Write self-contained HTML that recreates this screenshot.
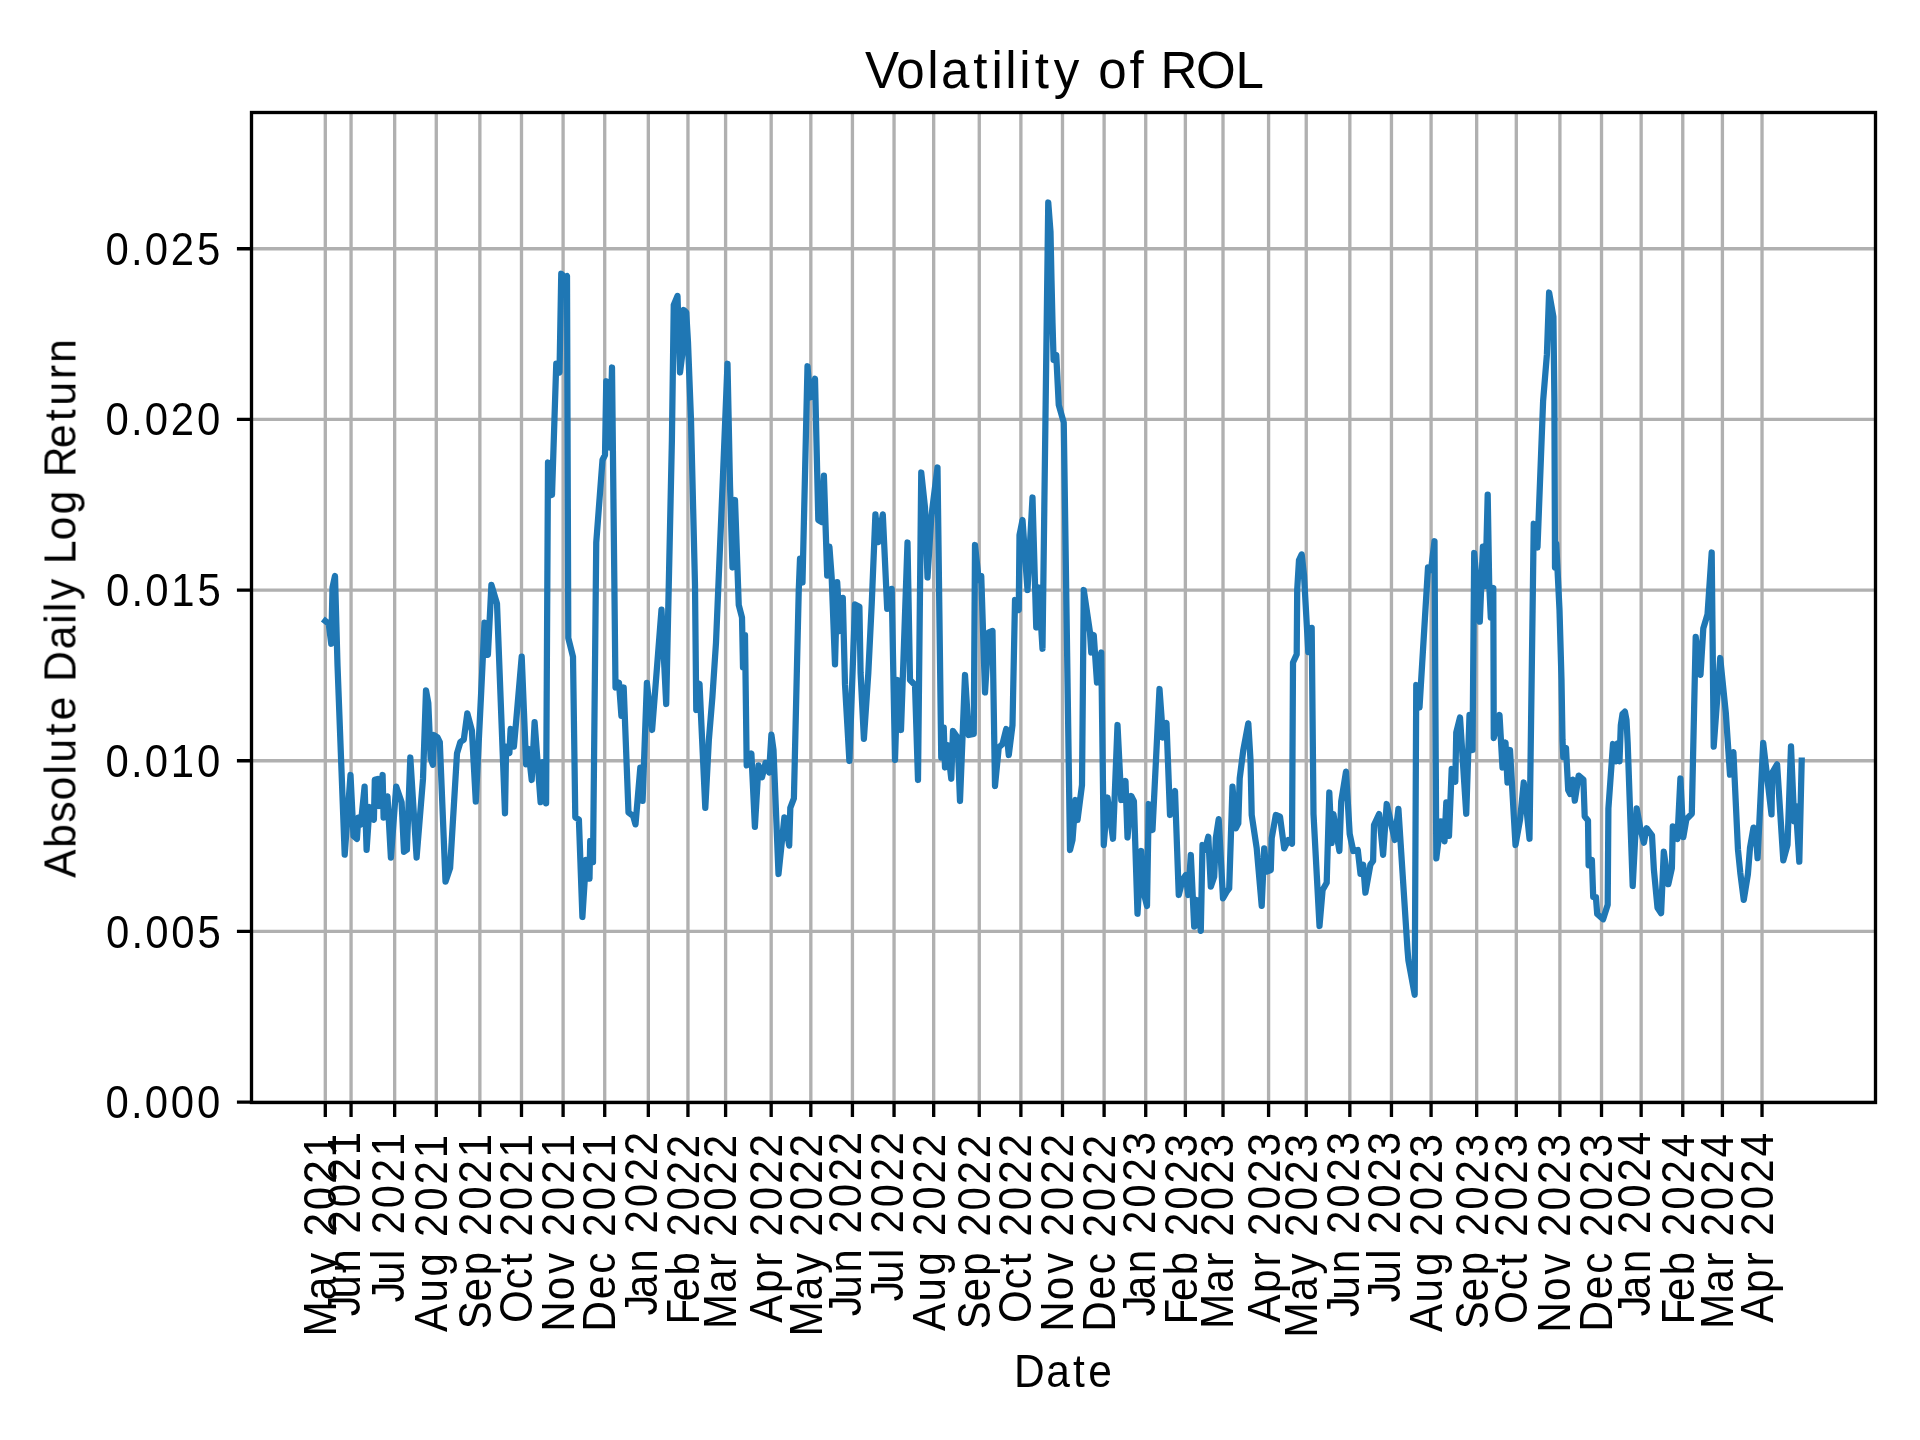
<!DOCTYPE html><html><head><meta charset="utf-8"><title>Volatility of ROL</title><style>html,body{margin:0;padding:0;background:#fff;overflow:hidden}svg{display:block}text{font-family:"Liberation Sans",sans-serif;fill:#000}</style></head><body>
<svg width="1920" height="1440" viewBox="0 0 1920 1440">
<rect x="0" y="0" width="1920" height="1440" fill="#fff"/>
<defs><clipPath id="ax"><rect x="251.50" y="112.50" width="1624.00" height="990.00"/></clipPath></defs>
<path d="M325.30 112.50V1102.50M351.06 112.50V1102.50M394.66 112.50V1102.50M436.28 112.50V1102.50M479.87 112.50V1102.50M521.49 112.50V1102.50M563.10 112.50V1102.50M604.72 112.50V1102.50M648.32 112.50V1102.50M687.95 112.50V1102.50M725.60 112.50V1102.50M771.18 112.50V1102.50M810.82 112.50V1102.50M852.43 112.50V1102.50M894.05 112.50V1102.50M933.68 112.50V1102.50M979.26 112.50V1102.50M1020.88 112.50V1102.50M1062.49 112.50V1102.50M1104.11 112.50V1102.50M1145.72 112.50V1102.50M1185.36 112.50V1102.50M1223.01 112.50V1102.50M1268.59 112.50V1102.50M1306.24 112.50V1102.50M1349.84 112.50V1102.50M1391.45 112.50V1102.50M1431.09 112.50V1102.50M1476.67 112.50V1102.50M1516.30 112.50V1102.50M1559.90 112.50V1102.50M1601.51 112.50V1102.50M1641.15 112.50V1102.50M1682.76 112.50V1102.50M1722.40 112.50V1102.50M1762.03 112.50V1102.50M251.50 1102.10H1875.50M251.50 931.43H1875.50M251.50 760.77H1875.50M251.50 590.10H1875.50M251.50 419.44H1875.50M251.50 248.77H1875.50" stroke="#b0b0b0" stroke-width="3.33" fill="none"/>
<path d="M325.30 621.00 L328.75 623.75 L331.25 643.75 L332.50 587.50 L335.00 576.00 L337.50 665.00 L344.70 854.70 L350.50 775.00 L353.50 836.00 L356.90 839.00 L358.30 817.70 L360.80 824.50 L364.60 786.60 L366.60 849.80 L369.50 807.00 L373.90 819.70 L374.80 779.80 L377.80 778.90 L379.40 806.00 L382.60 775.00 L383.60 817.70 L387.50 796.40 L390.90 857.60 L396.20 786.60 L401.60 802.20 L404.00 851.80 L406.90 849.80 L410.30 757.50 L416.60 857.60 L423.00 778.90 L426.00 690.30 L428.30 703.00 L430.60 758.00 L432.90 764.80 L434.00 735.00 L437.50 737.30 L439.80 742.00 L445.50 881.70 L450.10 868.00 L457.00 753.40 L460.40 742.00 L463.80 739.60 L467.30 713.30 L471.90 730.50 L475.80 801.50 L481.00 696.00 L484.50 622.70 L487.90 654.80 L491.40 584.90 L497.00 603.75 L505.00 813.30 L506.10 746.70 L509.40 753.00 L510.60 728.90 L513.90 746.70 L516.10 722.00 L521.70 656.70 L526.10 764.40 L528.30 748.90 L531.70 780.00 L534.60 722.20 L540.60 802.20 L542.80 762.20 L546.10 803.30 L548.00 462.50 L552.00 495.00 L556.25 363.75 L559.50 372.50 L561.25 273.75 L565.00 277.50 L567.00 276.00 L568.30 637.90 L573.00 656.80 L575.30 817.30 L578.90 819.70 L582.40 917.00 L586.00 859.80 L589.50 878.70 L590.20 841.00 L593.00 862.20 L596.25 542.50 L602.50 460.00 L605.00 455.00 L606.25 381.25 L610.00 447.50 L612.00 367.50 L615.50 687.50 L619.00 682.80 L621.40 715.80 L623.70 687.50 L628.50 812.60 L633.20 816.10 L635.50 824.40 L640.30 767.70 L642.60 800.80 L646.90 682.80 L652.10 730.00 L661.50 609.60 L666.20 704.00 L671.90 440.00 L673.75 305.00 L677.50 296.00 L680.00 372.50 L682.50 352.50 L683.75 310.00 L686.25 312.50 L688.00 342.50 L691.00 420.00 L695.00 585.00 L696.25 710.00 L699.50 683.75 L705.30 807.90 L708.90 739.40 L712.40 697.00 L716.00 642.60 L722.50 487.50 L727.50 363.75 L730.00 485.00 L732.50 567.50 L735.00 500.00 L738.75 605.00 L742.00 617.50 L743.00 667.50 L745.00 635.00 L746.70 765.40 L751.40 753.60 L754.90 826.80 L758.50 765.40 L762.00 777.20 L765.50 763.00 L769.10 772.50 L771.40 734.70 L773.50 750.00 L778.50 874.00 L784.40 817.30 L789.20 845.60 L790.30 807.90 L793.90 798.40 L798.75 590.00 L800.00 558.75 L802.50 582.50 L807.50 366.25 L810.00 397.50 L815.00 378.75 L818.30 520.00 L821.70 522.00 L823.90 475.60 L827.20 575.60 L829.40 546.70 L831.70 577.80 L835.00 664.40 L837.20 582.20 L839.90 631.00 L842.80 597.80 L845.00 684.40 L849.40 761.00 L855.00 604.40 L859.40 606.70 L860.60 673.00 L863.90 738.90 L868.30 673.30 L871.70 604.40 L875.40 514.40 L878.30 542.20 L882.80 514.40 L887.20 608.90 L891.70 588.90 L895.00 760.00 L897.50 680.00 L901.00 730.00 L907.50 542.50 L910.00 680.00 L915.00 685.00 L918.00 780.00 L921.25 472.50 L925.00 507.50 L927.50 577.50 L931.25 517.50 L937.50 467.50 L941.25 757.50 L943.75 727.50 L945.00 767.50 L947.50 745.00 L951.25 778.75 L953.00 731.00 L957.50 737.50 L960.00 801.00 L965.00 675.00 L968.75 735.00 L973.75 734.00 L975.00 545.00 L978.75 580.00 L981.25 576.00 L985.00 692.50 L988.75 632.50 L992.50 631.00 L995.00 786.00 L998.75 747.50 L1002.50 744.00 L1006.25 729.00 L1008.75 755.00 L1012.50 725.00 L1015.00 600.00 L1018.75 610.00 L1019.50 535.00 L1022.50 520.00 L1027.50 590.00 L1032.50 497.50 L1036.25 627.50 L1038.75 587.50 L1042.50 648.75 L1048.25 202.50 L1050.50 232.00 L1051.50 280.00 L1052.50 322.50 L1053.60 360.00 L1056.25 355.00 L1058.75 405.00 L1063.75 422.50 L1070.00 850.00 L1072.50 840.00 L1075.50 800.00 L1077.50 820.00 L1082.00 785.00 L1083.75 590.00 L1090.00 632.50 L1091.25 652.50 L1093.75 635.00 L1097.00 682.50 L1101.25 652.50 L1103.75 845.00 L1107.50 797.50 L1113.00 838.75 L1117.50 725.00 L1121.25 800.00 L1125.50 781.00 L1127.50 837.50 L1131.25 796.00 L1133.90 801.10 L1137.50 913.75 L1141.25 851.00 L1143.80 893.30 L1147.00 906.00 L1148.75 804.00 L1152.50 830.00 L1159.50 689.00 L1163.00 737.50 L1166.50 723.00 L1170.00 815.00 L1175.00 791.00 L1178.75 895.00 L1182.50 880.00 L1185.80 875.00 L1188.30 895.00 L1190.80 855.00 L1194.20 926.70 L1196.70 900.00 L1200.80 930.80 L1202.50 845.00 L1205.00 850.00 L1208.30 836.70 L1210.80 886.70 L1214.20 876.70 L1215.80 838.30 L1218.70 819.20 L1223.00 898.30 L1226.70 891.70 L1229.20 888.30 L1232.50 786.70 L1235.80 828.30 L1238.30 823.30 L1239.70 778.30 L1243.30 750.00 L1248.30 723.30 L1250.50 760.00 L1251.70 815.00 L1256.70 848.30 L1261.70 905.80 L1264.20 848.30 L1266.70 871.70 L1270.80 870.00 L1271.70 838.30 L1275.80 815.00 L1280.00 816.70 L1284.20 848.30 L1288.30 840.00 L1292.00 843.75 L1293.00 662.50 L1296.70 654.40 L1297.20 590.00 L1299.00 560.00 L1301.70 554.40 L1304.00 575.00 L1308.30 652.20 L1311.70 627.80 L1313.50 814.00 L1319.50 926.00 L1322.60 890.00 L1326.70 882.80 L1329.30 792.50 L1331.60 843.00 L1333.40 814.00 L1339.40 851.00 L1341.20 801.50 L1346.00 771.70 L1349.70 834.00 L1353.30 851.00 L1357.80 850.00 L1360.50 873.80 L1363.20 864.70 L1365.40 892.70 L1370.40 864.70 L1373.10 861.00 L1374.00 825.00 L1379.10 814.00 L1383.10 854.80 L1386.70 804.00 L1394.80 840.00 L1398.40 808.80 L1407.50 949.60 L1408.40 960.40 L1414.70 994.80 L1416.25 685.00 L1419.50 707.50 L1428.00 567.50 L1431.00 570.00 L1434.50 541.25 L1436.30 858.40 L1440.90 821.40 L1444.50 841.30 L1446.30 802.40 L1449.00 835.80 L1451.70 769.00 L1455.30 781.70 L1456.25 732.50 L1460.00 717.50 L1466.25 813.75 L1469.50 715.00 L1472.50 750.00 L1474.20 553.00 L1479.80 621.70 L1482.90 546.70 L1485.40 586.00 L1487.70 494.60 L1489.20 584.00 L1490.80 617.50 L1493.30 588.00 L1493.75 738.00 L1499.50 715.00 L1502.50 767.50 L1505.50 742.50 L1507.50 782.50 L1510.00 750.00 L1515.50 845.00 L1520.00 820.00 L1523.75 782.50 L1529.50 838.75 L1533.75 523.75 L1537.50 547.50 L1543.10 401.25 L1546.90 354.40 L1549.10 292.50 L1553.40 316.90 L1554.40 401.00 L1555.00 567.50 L1556.25 543.75 L1559.50 610.00 L1561.50 680.00 L1562.50 740.00 L1563.30 757.00 L1566.00 748.00 L1568.20 790.10 L1570.20 794.00 L1572.80 779.60 L1574.80 800.70 L1578.70 775.60 L1583.40 779.60 L1584.70 816.50 L1588.00 820.40 L1588.60 865.30 L1591.90 860.00 L1593.20 897.00 L1595.90 897.00 L1597.20 914.00 L1603.10 919.30 L1607.70 904.80 L1608.40 808.60 L1613.00 744.00 L1615.90 761.30 L1617.70 743.30 L1619.50 761.30 L1620.80 725.20 L1622.50 714.00 L1624.90 711.60 L1626.50 720.00 L1627.70 743.30 L1632.70 886.00 L1636.70 808.30 L1640.30 828.20 L1643.90 842.70 L1646.60 828.20 L1652.00 835.40 L1653.90 869.80 L1657.50 907.70 L1661.10 913.20 L1663.80 851.70 L1668.30 884.20 L1671.90 868.00 L1672.80 826.40 L1677.40 839.00 L1680.40 778.50 L1683.30 837.20 L1686.40 819.20 L1691.80 813.70 L1695.70 636.90 L1700.50 674.80 L1703.30 628.40 L1707.50 614.40 L1711.70 552.50 L1713.70 746.60 L1720.20 658.00 L1725.80 712.80 L1730.00 774.70 L1733.40 752.20 L1738.00 850.00 L1740.30 872.80 L1743.75 899.90 L1747.90 874.20 L1750.00 847.80 L1753.50 827.60 L1755.50 830.00 L1757.60 858.20 L1763.20 742.90 L1771.50 814.40 L1772.20 772.80 L1777.10 764.40 L1783.30 860.30 L1787.50 845.00 L1791.00 746.40 L1794.20 821.40 L1795.80 806.00 L1799.30 861.70 L1801.70 760.60" stroke="#1f77b4" stroke-width="6.25" fill="none" stroke-linejoin="round" stroke-linecap="square" clip-path="url(#ax)"/>
<rect x="251.50" y="112.50" width="1624.00" height="990.00" fill="none" stroke="#000" stroke-width="3.33" stroke-linejoin="miter" stroke-linecap="square"/>
<path d="M325.30 1102.50V1117.08M351.06 1102.50V1117.08M394.66 1102.50V1117.08M436.28 1102.50V1117.08M479.87 1102.50V1117.08M521.49 1102.50V1117.08M563.10 1102.50V1117.08M604.72 1102.50V1117.08M648.32 1102.50V1117.08M687.95 1102.50V1117.08M725.60 1102.50V1117.08M771.18 1102.50V1117.08M810.82 1102.50V1117.08M852.43 1102.50V1117.08M894.05 1102.50V1117.08M933.68 1102.50V1117.08M979.26 1102.50V1117.08M1020.88 1102.50V1117.08M1062.49 1102.50V1117.08M1104.11 1102.50V1117.08M1145.72 1102.50V1117.08M1185.36 1102.50V1117.08M1223.01 1102.50V1117.08M1268.59 1102.50V1117.08M1306.24 1102.50V1117.08M1349.84 1102.50V1117.08M1391.45 1102.50V1117.08M1431.09 1102.50V1117.08M1476.67 1102.50V1117.08M1516.30 1102.50V1117.08M1559.90 1102.50V1117.08M1601.51 1102.50V1117.08M1641.15 1102.50V1117.08M1682.76 1102.50V1117.08M1722.40 1102.50V1117.08M1762.03 1102.50V1117.08M251.50 1102.10H236.92M251.50 931.43H236.92M251.50 760.77H236.92M251.50 590.10H236.92M251.50 419.44H236.92M251.50 248.77H236.92" stroke="#000" stroke-width="3.33" fill="none"/>
<g opacity="0.999">
<g transform="matrix(1.00253 0 0 1.00000 -2.184 1.000)"><g transform="translate(1063.7 86.8)"><text x="-198.84 -167.49 -136.73 -122.98 -90.76 -72.59 -58.70 -44.81 -29.48 -10.55 17.86 34.00 65.20 81.94 95.93 131.56 170.82" y="0" font-size="51.00">Volatility of ROL</text></g></g>
<g transform="matrix(1.00000 0 0 1.06897 0.000 -95.655)"><g transform="translate(1063 1386.7)"><text x="-49.10 -16.76 10.09 25.16" y="0" font-size="42.50">Date</text></g></g>
<g transform="matrix(1.05000 0 0 1.00000 -4.250 -2.000)"><g transform="translate(75.9 609.8) rotate(-90)"><text x="-269.90 -240.07 -214.80 -192.39 -166.76 -154.87 -127.58 -112.51 -87.15 -73.93 -41.59 -15.94 -4.37 7.85 31.52 43.83 67.46 93.43 119.19 130.85 159.79 186.69 202.15 228.66 244.96" y="0" font-size="42.50">Absolute Daily Log Return</text></g></g>
<g transform="matrix(1.06897 0 0 0.99495 -21.034 4.742)"><g transform="translate(333.80 1133.5) rotate(-90)"><text x="-205.15 -168.53 -142.24 -118.56 -104.60 -78.09 -51.58 -25.07" y="0" font-size="42.50">May 2021</text></g></g>
<g transform="matrix(1.06897 0 0 0.98370 -24.828 15.538)"><g transform="translate(359.56 1133.5) rotate(-90)"><text x="-188.87 -170.71 -144.31 -118.56 -104.60 -78.09 -51.58 -25.07" y="0" font-size="42.50">Jun 2021</text></g></g>
<g transform="matrix(1.06897 0 0 0.98225 -26.793 18.183)"><g transform="translate(403.16 1133.5) rotate(-90)"><text x="-174.04 -155.88 -129.79 -118.56 -104.60 -78.09 -51.58 -25.07" y="0" font-size="42.50">Jul 2021</text></g></g>
<g transform="matrix(1.06897 0 0 0.98985 -28.690 11.543)"><g transform="translate(444.78 1133.5) rotate(-90)"><text x="-200.56 -170.75 -144.33 -118.56 -104.60 -78.09 -51.58 -25.07" y="0" font-size="42.50">Aug 2021</text></g></g>
<g transform="matrix(1.06897 0 0 0.98964 -30.655 10.782)"><g transform="translate(488.37 1133.5) rotate(-90)"><text x="-198.76 -170.37 -144.33 -118.56 -104.60 -78.09 -51.58 -25.07" y="0" font-size="42.50">Sep 2021</text></g></g>
<g transform="matrix(1.06897 0 0 0.99462 -34.552 5.113)"><g transform="translate(529.99 1133.5) rotate(-90)"><text x="-191.46 -157.70 -133.36 -118.56 -104.60 -78.09 -51.58 -25.07" y="0" font-size="42.50">Oct 2021</text></g></g>
<g transform="matrix(1.06897 0 0 0.99482 -37.448 4.891)"><g transform="translate(571.60 1133.5) rotate(-90)"><text x="-200.36 -168.51 -142.24 -118.56 -104.60 -78.09 -51.58 -25.07" y="0" font-size="42.50">Nov 2021</text></g></g>
<g transform="matrix(1.06897 0 0 1.00000 -40.276 -1.000)"><g transform="translate(613.22 1133.5) rotate(-90)"><text x="-199.21 -166.83 -141.36 -118.56 -104.60 -78.09 -51.58 -25.07" y="0" font-size="42.50">Dec 2021</text></g></g>
<g transform="matrix(1.06897 0 0 0.98361 -45.310 15.639)"><g transform="translate(656.82 1133.5) rotate(-90)"><text x="-187.99 -170.28 -144.31 -118.56 -104.60 -78.09 -51.58 -25.07" y="0" font-size="42.50">Jan 2022</text></g></g>
<g transform="matrix(1.06897 0 0 0.98396 -45.000 18.241)"><g transform="translate(696.45 1133.5) rotate(-90)"><text x="-194.04 -170.37 -144.33 -118.56 -104.60 -78.09 -51.58 -25.07" y="0" font-size="42.50">Feb 2022</text></g></g>
<g transform="matrix(1.06897 0 0 0.98953 -48.621 11.906)"><g transform="translate(734.10 1133.5) rotate(-90)"><text x="-197.62 -161.00 -134.92 -118.56 -104.60 -78.09 -51.58 -25.07" y="0" font-size="42.50">Mar 2022</text></g></g>
<g transform="matrix(1.06897 0 0 0.99465 -51.793 5.080)"><g transform="translate(779.68 1133.5) rotate(-90)"><text x="-191.29 -161.46 -134.92 -118.56 -104.60 -78.09 -51.58 -25.07" y="0" font-size="42.50">Apr 2022</text></g></g>
<g transform="matrix(1.06897 0 0 0.99495 -53.483 4.742)"><g transform="translate(819.32 1133.5) rotate(-90)"><text x="-205.15 -168.53 -142.24 -118.56 -104.60 -78.09 -51.58 -25.07" y="0" font-size="42.50">May 2022</text></g></g>
<g transform="matrix(1.06897 0 0 0.98370 -59.379 15.538)"><g transform="translate(860.93 1133.5) rotate(-90)"><text x="-188.87 -170.71 -144.31 -118.56 -104.60 -78.09 -51.58 -25.07" y="0" font-size="42.50">Jun 2022</text></g></g>
<g transform="matrix(1.06897 0 0 0.98225 -62.276 17.183)"><g transform="translate(902.55 1133.5) rotate(-90)"><text x="-174.04 -155.88 -129.79 -118.56 -104.60 -78.09 -51.58 -25.07" y="0" font-size="42.50">Jul 2022</text></g></g>
<g transform="matrix(1.06897 0 0 0.98985 -61.966 10.543)"><g transform="translate(942.18 1133.5) rotate(-90)"><text x="-200.56 -170.75 -144.33 -118.56 -104.60 -78.09 -51.58 -25.07" y="0" font-size="42.50">Aug 2022</text></g></g>
<g transform="matrix(1.06897 0 0 0.98446 -66.138 17.674)"><g transform="translate(987.76 1133.5) rotate(-90)"><text x="-198.76 -170.37 -144.33 -118.56 -104.60 -78.09 -51.58 -25.07" y="0" font-size="42.50">Sep 2022</text></g></g>
<g transform="matrix(1.06897 0 0 0.99462 -68.966 5.113)"><g transform="translate(1029.38 1133.5) rotate(-90)"><text x="-191.46 -157.70 -133.36 -118.56 -104.60 -78.09 -51.58 -25.07" y="0" font-size="42.50">Oct 2022</text></g></g>
<g transform="matrix(1.06897 0 0 0.99482 -71.862 4.891)"><g transform="translate(1070.99 1133.5) rotate(-90)"><text x="-200.36 -168.51 -142.24 -118.56 -104.60 -78.09 -51.58 -25.07" y="0" font-size="42.50">Nov 2022</text></g></g>
<g transform="matrix(1.06897 0 0 0.99479 -74.759 5.922)"><g transform="translate(1112.61 1133.5) rotate(-90)"><text x="-199.21 -166.83 -141.36 -118.56 -104.60 -78.09 -51.58 -25.07" y="0" font-size="42.50">Dec 2022</text></g></g>
<g transform="matrix(1.06897 0 0 0.98907 -78.586 9.426)"><g transform="translate(1154.22 1133.5) rotate(-90)"><text x="-187.99 -170.28 -144.31 -118.56 -104.60 -78.09 -51.58 -25.07" y="0" font-size="42.50">Jan 2023</text></g></g>
<g transform="matrix(1.06897 0 0 0.98930 -79.345 11.160)"><g transform="translate(1193.86 1133.5) rotate(-90)"><text x="-194.04 -170.37 -144.33 -118.56 -104.60 -78.09 -51.58 -25.07" y="0" font-size="42.50">Feb 2023</text></g></g>
<g transform="matrix(1.06897 0 0 0.99476 -82.966 4.953)"><g transform="translate(1231.51 1133.5) rotate(-90)"><text x="-197.62 -161.00 -134.92 -118.56 -104.60 -78.09 -51.58 -25.07" y="0" font-size="42.50">Mar 2023</text></g></g>
<g transform="matrix(1.06897 0 0 1.00000 -85.069 -2.000)"><g transform="translate(1277.09 1133.5) rotate(-90)"><text x="-191.29 -161.46 -134.92 -118.56 -104.60 -78.09 -51.58 -25.07" y="0" font-size="42.50">Apr 2023</text></g></g>
<g transform="matrix(1.06897 0 0 1.00000 -88.690 -1.000)"><g transform="translate(1314.74 1133.5) rotate(-90)"><text x="-205.15 -168.53 -142.24 -118.56 -104.60 -78.09 -51.58 -25.07" y="0" font-size="42.50">May 2023</text></g></g>
<g transform="matrix(1.06897 0 0 0.98913 -92.655 9.359)"><g transform="translate(1358.34 1133.5) rotate(-90)"><text x="-188.87 -170.71 -144.31 -118.56 -104.60 -78.09 -51.58 -25.07" y="0" font-size="42.50">Jun 2023</text></g></g>
<g transform="matrix(1.06897 0 0 0.98817 -96.552 10.456)"><g transform="translate(1399.95 1133.5) rotate(-90)"><text x="-174.04 -155.88 -129.79 -118.56 -104.60 -78.09 -51.58 -25.07" y="0" font-size="42.50">Jul 2023</text></g></g>
<g transform="matrix(1.06897 0 0 0.99492 -97.310 4.772)"><g transform="translate(1439.59 1133.5) rotate(-90)"><text x="-200.56 -170.75 -144.33 -118.56 -104.60 -78.09 -51.58 -25.07" y="0" font-size="42.50">Aug 2023</text></g></g>
<g transform="matrix(1.06897 0 0 0.98964 -99.414 10.782)"><g transform="translate(1485.17 1133.5) rotate(-90)"><text x="-198.76 -170.37 -144.33 -118.56 -104.60 -78.09 -51.58 -25.07" y="0" font-size="42.50">Sep 2023</text></g></g>
<g transform="matrix(1.06897 0 0 1.00000 -103.172 -1.000)"><g transform="translate(1524.80 1133.5) rotate(-90)"><text x="-191.46 -157.70 -133.36 -118.56 -104.60 -78.09 -51.58 -25.07" y="0" font-size="42.50">Oct 2023</text></g></g>
<g transform="matrix(1.06897 0 0 1.00000 -106.138 -1.000)"><g transform="translate(1568.40 1133.5) rotate(-90)"><text x="-200.36 -168.51 -142.24 -118.56 -104.60 -78.09 -51.58 -25.07" y="0" font-size="42.50">Nov 2023</text></g></g>
<g transform="matrix(1.06897 0 0 1.00000 -109.034 -1.000)"><g transform="translate(1610.01 1133.5) rotate(-90)"><text x="-199.21 -166.83 -141.36 -118.56 -104.60 -78.09 -51.58 -25.07" y="0" font-size="42.50">Dec 2023</text></g></g>
<g transform="matrix(1.06897 0 0 0.98913 -113.793 9.348)"><g transform="translate(1649.65 1133.5) rotate(-90)"><text x="-187.99 -170.28 -144.31 -118.56 -104.60 -78.09 -51.58 -25.07" y="0" font-size="42.50">Jan 2024</text></g></g>
<g transform="matrix(1.06897 0 0 0.98936 -113.621 11.085)"><g transform="translate(1691.26 1133.5) rotate(-90)"><text x="-194.04 -170.37 -144.33 -118.56 -104.60 -78.09 -51.58 -25.07" y="0" font-size="42.50">Feb 2024</text></g></g>
<g transform="matrix(1.06897 0 0 0.99479 -117.379 4.917)"><g transform="translate(1730.90 1133.5) rotate(-90)"><text x="-197.62 -161.00 -134.92 -118.56 -104.60 -78.09 -51.58 -25.07" y="0" font-size="42.50">Mar 2024</text></g></g>
<g transform="matrix(1.06897 0 0 1.00000 -120.138 -2.000)"><g transform="translate(1770.53 1133.5) rotate(-90)"><text x="-191.29 -161.46 -134.92 -118.56 -104.60 -78.09 -51.58 -25.07" y="0" font-size="42.50">Apr 2024</text></g></g>
<g transform="matrix(0.98533 0 0 1.06897 4.362 -76.034)"><g transform="translate(220.5 1117.30)"><text x="-117.85 -92.06 -78.09 -51.58 -25.07" y="0" font-size="42.50">0.000</text></g></g>
<g transform="matrix(0.98533 0 0 1.06897 4.855 -64.310)"><g transform="translate(220.5 946.63)"><text x="-117.85 -92.06 -78.09 -51.58 -25.07" y="0" font-size="42.50">0.005</text></g></g>
<g transform="matrix(0.98533 0 0 1.06897 4.362 -52.517)"><g transform="translate(220.5 775.97)"><text x="-117.85 -92.06 -78.09 -51.58 -25.07" y="0" font-size="42.50">0.010</text></g></g>
<g transform="matrix(0.98533 0 0 1.06897 4.855 -40.724)"><g transform="translate(220.5 605.30)"><text x="-117.85 -92.06 -78.09 -51.58 -25.07" y="0" font-size="42.50">0.015</text></g></g>
<g transform="matrix(0.98533 0 0 1.06897 4.362 -30.000)"><g transform="translate(220.5 434.64)"><text x="-117.85 -92.06 -78.09 -51.58 -25.07" y="0" font-size="42.50">0.020</text></g></g>
<g transform="matrix(0.98533 0 0 1.06897 4.355 -17.207)"><g transform="translate(220.5 263.97)"><text x="-117.85 -92.06 -78.09 -51.58 -25.07" y="0" font-size="42.50">0.025</text></g></g>
</g>
</svg></body></html>
